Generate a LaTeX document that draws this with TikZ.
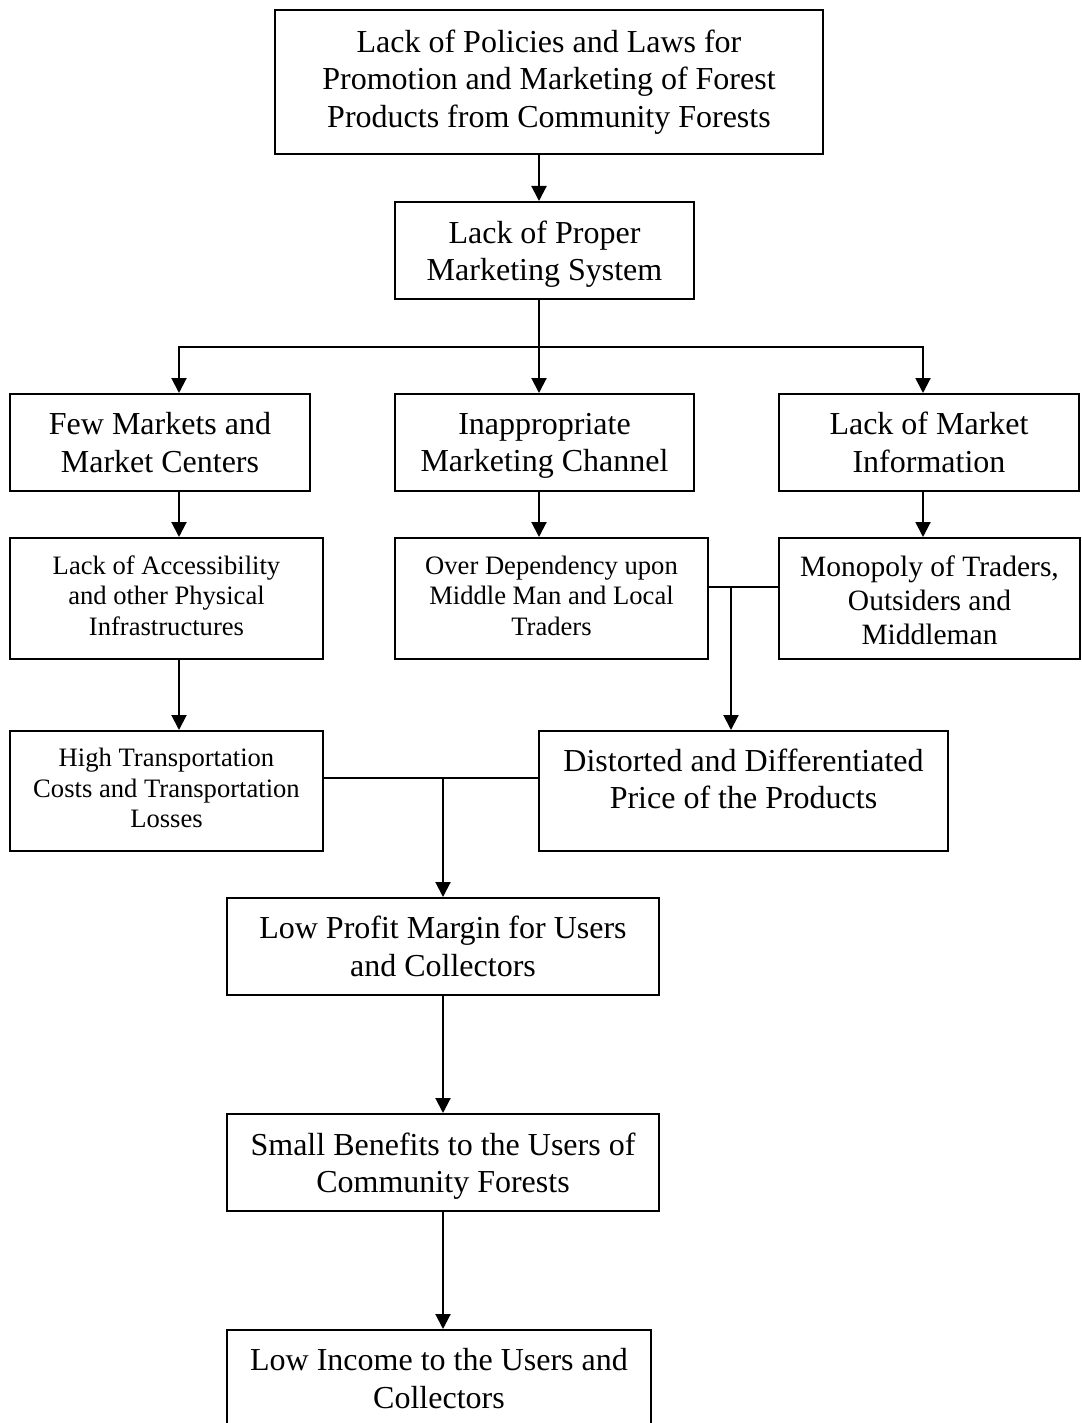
\documentclass[tikz,border=0pt]{standalone}
\usepackage{fontspec}
\setmainfont{Liberation Serif}
\usetikzlibrary{arrows.meta}
\begin{document}
\begin{tikzpicture}[x=0.5pt,y=-0.5pt,
  box/.style={draw, line width=1pt, inner sep=0pt, align=center},
  big/.style={font=\fontsize{16}{18.75}\selectfont},
  mid/.style={font=\fontsize{14.75}{17}\selectfont},
  sml/.style={font=\fontsize{13.3}{15.25}\selectfont,
    execute at end node={\rule[-3pt]{0pt}{3pt}}},
  link/.style={line width=1pt},
  arr/.style={link, -{Triangle[length=7.5pt,width=7.5pt]}}]
\useasboundingbox (0,0) rectangle (1081,1423);

% boxes
\node[box, big, minimum width=274pt, minimum height=72pt] (top) at (549,82)
  {Lack of Policies and Laws for\\Promotion and Marketing of Forest\\Products from Community Forests};
\node[box, big, minimum width=149.5pt, minimum height=48.5pt] (sys) at (544.5,250.5)
  {Lack of Proper\\\smash{Marketing System}};
\node[box, big, minimum width=150pt, minimum height=48.5pt] (few) at (160,442.5)
  {Few Markets and\\Market Centers};
\node[box, big, minimum width=149.5pt, minimum height=48.5pt] (chan) at (544.5,442.5)
  {Inappropriate\\\smash{Marketing Channel}};
\node[box, big, minimum width=150pt, minimum height=48.5pt] (info) at (929,442.5)
  {Lack of Market\\Information};
\node[box, sml, minimum width=156.5pt, minimum height=60.5pt] (acc) at (166.5,598.5)
  {Lack of Accessibility\\and other Physical\\Infrastructures};
\node[box, sml, minimum width=156.5pt, minimum height=60.5pt] (dep) at (551.5,598.5)
  {Over Dependency upon\\Middle Man and Local\\Traders};
\node[box, mid, minimum width=150.5pt, minimum height=60.5pt] (mono) at (929.5,598.5)
  {\rule{0pt}{12.6pt}Monopoly of Traders,\\Outsiders and\\Middleman};
\node[box, sml, minimum width=156.5pt, minimum height=60pt] (trans) at (166.5,791)
  {High Transportation\\Costs and Transportation\\Losses};
% text sits in the upper part of this box
\node[box, big, minimum width=204.5pt, minimum height=60pt] (dist) at (743.5,791)
  {Distorted and Differentiated\\Price of the Products\\[-6.25pt]\mbox{}};
\node[box, big, minimum width=216pt, minimum height=48.5pt] (profit) at (443,946.5)
  {Low Profit Margin for Users\\and Collectors};
\node[box, big, minimum width=216pt, minimum height=48.5pt] (benefit) at (443,1162.5)
  {Small Benefits to the Users of\\\smash{Community Forests}};
\node[box, big, minimum width=212pt, minimum height=48.5pt] (income) at (439,1378.5)
  {Low Income to the Users and\\Collectors};

% connector columns and junctions
\coordinate (cL) at (179,0);
\coordinate (cA) at (539,0);
\coordinate (cR) at (923,0);
\coordinate (cM) at (443,0);
\coordinate (split) at (539,347);
\coordinate (mj) at (731,587);
\coordinate (tj) at (443,778);

% connectors
\draw[arr] (top.south -| cA) -- (sys.north -| cA);
\draw[link] (sys.south -| cA) -- (split);
\draw[arr] (split) -| (few.north -| cL);
\draw[arr] (split) -- (chan.north -| cA);
\draw[arr] (split) -| (info.north -| cR);
\draw[arr] (few.south -| cL) -- (acc.north -| cL);
\draw[arr] (chan.south -| cA) -- (dep.north -| cA);
\draw[arr] (info.south -| cR) -- (mono.north -| cR);
\draw[arr] (acc.south -| cL) -- (trans.north -| cL);
\draw[link] (dep.east |- mj) -- (mono.west |- mj);
\draw[arr] (mj) -- (dist.north -| mj);
\draw[link] (trans.east |- tj) -- (dist.west |- tj);
\draw[arr] (tj) -- (profit.north -| tj);
\draw[arr] (profit.south -| cM) -- (benefit.north -| cM);
\draw[arr] (benefit.south -| cM) -- (income.north -| cM);
\end{tikzpicture}
\end{document}
